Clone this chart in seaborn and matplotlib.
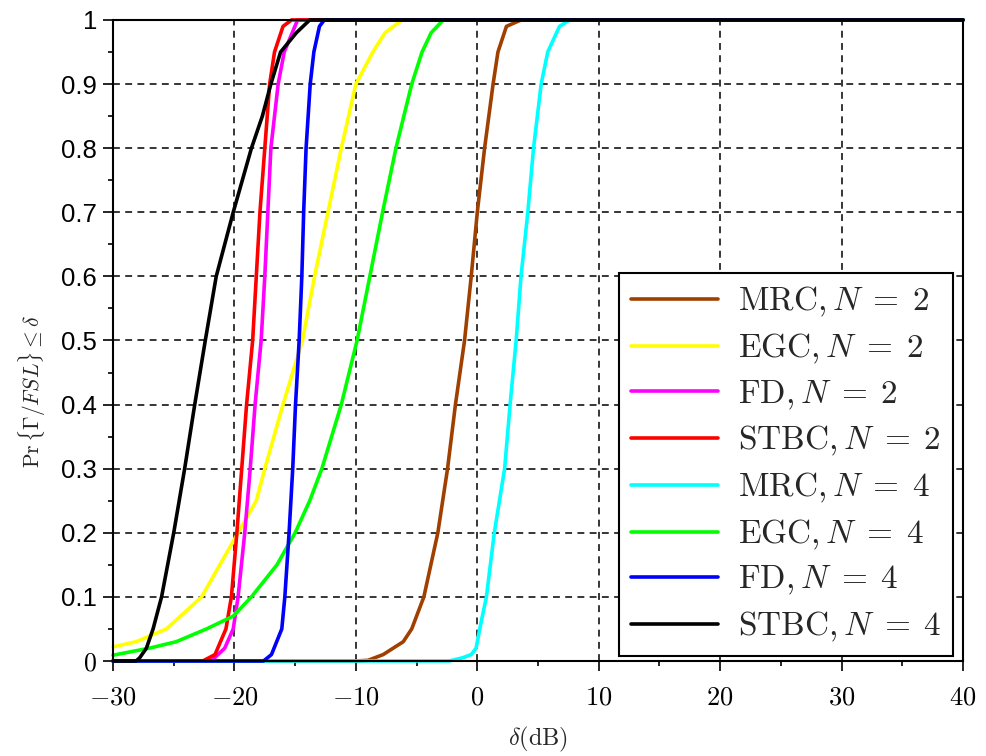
import matplotlib
matplotlib.use("Agg")
import matplotlib.pyplot as plt
import numpy as np
import pandas as pd
import seaborn as sns

# legend order and colours
SCHEMES = [
    r"$\mathrm{MRC},N\;=\;2$",
    r"$\mathrm{EGC},N\;=\;2$",
    r"$\mathrm{FD},N\;=\;2$",
    r"$\mathrm{STBC},N\;=\;2$",
    r"$\mathrm{MRC},N\;=\;4$",
    r"$\mathrm{EGC},N\;=\;4$",
    r"$\mathrm{FD},N\;=\;4$",
    r"$\mathrm{STBC},N\;=\;4$",
]
COLORS = ["#A04000", "#FFFF00", "#FF00FF", "#FF0000",
          "#00FFFF", "#00FF00", "#0000FF", "#000000"]

# CDF points (delta in dB, probability)
mrc2_x = [-30, -10, -9, -7.75, -6.1, -5.4, -4.4, -3.25, -2.45, -1.8, -1.05, -0.5, 0.0, 0.6, 1.3, 1.7, 2.4, 3.6, 40]
mrc2_y = [0, 0, 0.001, 0.01, 0.03, 0.05, 0.1, 0.2, 0.3, 0.4, 0.5, 0.6, 0.7, 0.8, 0.9, 0.95, 0.99, 1, 1]

egc2_x = [-30, -28.1, -25.6, -22.7, -21.2, -19.7, -18.2, -17.5, -16.0, -14.4, -13.4, -12.3, -11.2, -10.0, -8.6, -7.6, -6.2, 40]
egc2_y = [0.022, 0.03, 0.05, 0.1, 0.15, 0.2, 0.25, 0.3, 0.4, 0.5, 0.6, 0.7, 0.8, 0.9, 0.95, 0.98, 1, 1]

fd2_x = [-30, -21.9, -20.8, -20.1, -19.7, -19.15, -18.7, -18.3, -17.8, -17.5, -17.25, -17.0, -16.4, -15.9, -14.8, 40]
fd2_y = [0, 0, 0.02, 0.05, 0.1, 0.2, 0.3, 0.4, 0.5, 0.6, 0.7, 0.8, 0.9, 0.95, 1, 1]

stbc2_x = [-30, -22.6, -21.6, -20.7, -20.25, -19.8, -19.4, -19.0, -18.5, -18.2, -17.9, -17.5, -17.1, -16.7, -16.0, -15.3, 40]
stbc2_y = [0, 0, 0.01, 0.05, 0.1, 0.2, 0.3, 0.4, 0.5, 0.6, 0.7, 0.8, 0.9, 0.95, 0.99, 1, 1]

mrc4_x = [-30, -2.3, -1.2, -0.5, -0.1, 0.2, 0.75, 1.4, 2.25, 2.7, 3.2, 3.6, 4.16, 4.63, 5.26, 5.8, 6.77, 7.6, 40]
mrc4_y = [0, 0, 0.005, 0.01, 0.02, 0.05, 0.1, 0.2, 0.3, 0.4, 0.5, 0.6, 0.7, 0.8, 0.9, 0.95, 0.99, 1, 1]

egc4_x = [-30, -27.0, -24.8, -22.3, -20.1, -18.6, -16.5, -15.0, -13.8, -12.8, -11.2, -9.9, -8.85, -7.8, -6.7, -5.4, -4.55, -3.8, -2.8, 40]
egc4_y = [0.009, 0.02, 0.03, 0.05, 0.07, 0.1, 0.15, 0.2, 0.25, 0.3, 0.4, 0.5, 0.6, 0.7, 0.8, 0.9, 0.95, 0.98, 1, 1]

fd4_x = [-30, -17.6, -16.95, -16.1, -15.85, -15.5, -15.2, -14.97, -14.67, -14.45, -14.3, -14.1, -13.76, -13.46, -13.0, -12.6, 40]
fd4_y = [0, 0, 0.01, 0.05, 0.1, 0.2, 0.3, 0.4, 0.5, 0.6, 0.7, 0.8, 0.9, 0.95, 0.99, 1, 1]

stbc4_x = [-30, -28.1, -27.8, -27.25, -26.7, -26.0, -25.0, -24.1, -23.27, -22.4, -21.5, -20.1, -18.6, -17.7, -17.0, -16.2, -14.9, -13.8, 40]
stbc4_y = [0, 0, 0.005, 0.02, 0.05, 0.1, 0.2, 0.3, 0.4, 0.5, 0.6, 0.7, 0.8, 0.85, 0.9, 0.95, 0.98, 1, 1]

SERIES = [(mrc2_x, mrc2_y), (egc2_x, egc2_y), (fd2_x, fd2_y), (stbc2_x, stbc2_y),
          (mrc4_x, mrc4_y), (egc4_x, egc4_y), (fd4_x, fd4_y), (stbc4_x, stbc4_y)]

X_TICKS = [-30, -20, -10, 0, 10, 20, 30, 40]
X_LABELS = [r"$-30$", r"$-20$", r"$-10$", r"$0$", r"$10$", r"$20$", r"$30$", r"$40$"]
Y_TICKS = [0, 0.1, 0.2, 0.3, 0.4, 0.5, 0.6, 0.7, 0.8, 0.9, 1.0]
Y_LABELS = [r"$0$", "0.1", "0.2", "0.3", "0.4", "0.5", "0.6", "0.7", "0.8", "0.9", "1"]


def setup_style() -> None:
    sns.set_theme(style="ticks")
    plt.rcParams.update(
        {
            "font.family": ["Liberation Sans", "DejaVu Sans"],
            "mathtext.fontset": "cm",
            "axes.edgecolor": "black",
            "axes.linewidth": 1.5,
            "xtick.color": "black",
            "ytick.color": "black",
        }
    )


def main() -> None:
    setup_style()
    frames = []
    for name, (xs, ys) in zip(SCHEMES, SERIES):
        frames.append(pd.DataFrame({"delta": xs, "prob": ys, "scheme": name}))
    data = pd.concat(frames, ignore_index=True)

    fig = plt.figure(figsize=(9.87, 7.56), dpi=100)
    ax = fig.add_axes([0.1145, 0.1257, 0.8612, 0.8479])
    sns.lineplot(
        data=data, x="delta", y="prob", hue="scheme", hue_order=SCHEMES,
        palette=COLORS, estimator=None, sort=False, linewidth=2.6,
        legend=False, ax=ax,
    )
    for line in ax.lines:
        line.set_clip_on(False)

    ax.set_xlim(-30, 40)
    ax.set_ylim(0, 1)
    ax.set_xticks(X_TICKS)
    ax.set_xticklabels(X_LABELS, fontsize=19)
    ax.set_xticks(np.arange(-25, 40, 10), minor=True)
    ax.set_yticks(Y_TICKS)
    ax.set_yticklabels(Y_LABELS, fontsize=18.5)
    ax.set_yticks(np.arange(0.05, 1.0, 0.1), minor=True)
    ax.tick_params(which="major", direction="out", length=7.5, width=1.2, pad=4)
    ax.tick_params(which="minor", direction="out", length=3.6, width=1.2)
    ax.tick_params(axis="x", which="major", pad=10)
    ax.grid(True, which="major", color="black", linestyle=(0, (4.5, 3.5)), linewidth=1.1)

    ax.set_xlabel(r"$\delta(\mathrm{dB})$", fontsize=17.5, labelpad=11)
    ax.set_ylabel(r"$\Pr\{\Gamma/FSL\}\leq\delta$", fontsize=15.5, va="center")
    ax.yaxis.set_label_coords(-0.095, 0.42)

    legend = ax.legend(
        handles=ax.lines[:8], labels=SCHEMES, loc="lower right",
        bbox_to_anchor=(0.988, 0.008), borderaxespad=0, fontsize=24,
        frameon=True, fancybox=False, edgecolor="black", framealpha=1,
        handlelength=2.6, handletextpad=0.6, labelspacing=0.38, borderpad=0.35,
    )
    legend.get_frame().set_linewidth(1.5)

    fig.savefig("out.png", dpi=100, facecolor="white")


if __name__ == "__main__":
    main()
